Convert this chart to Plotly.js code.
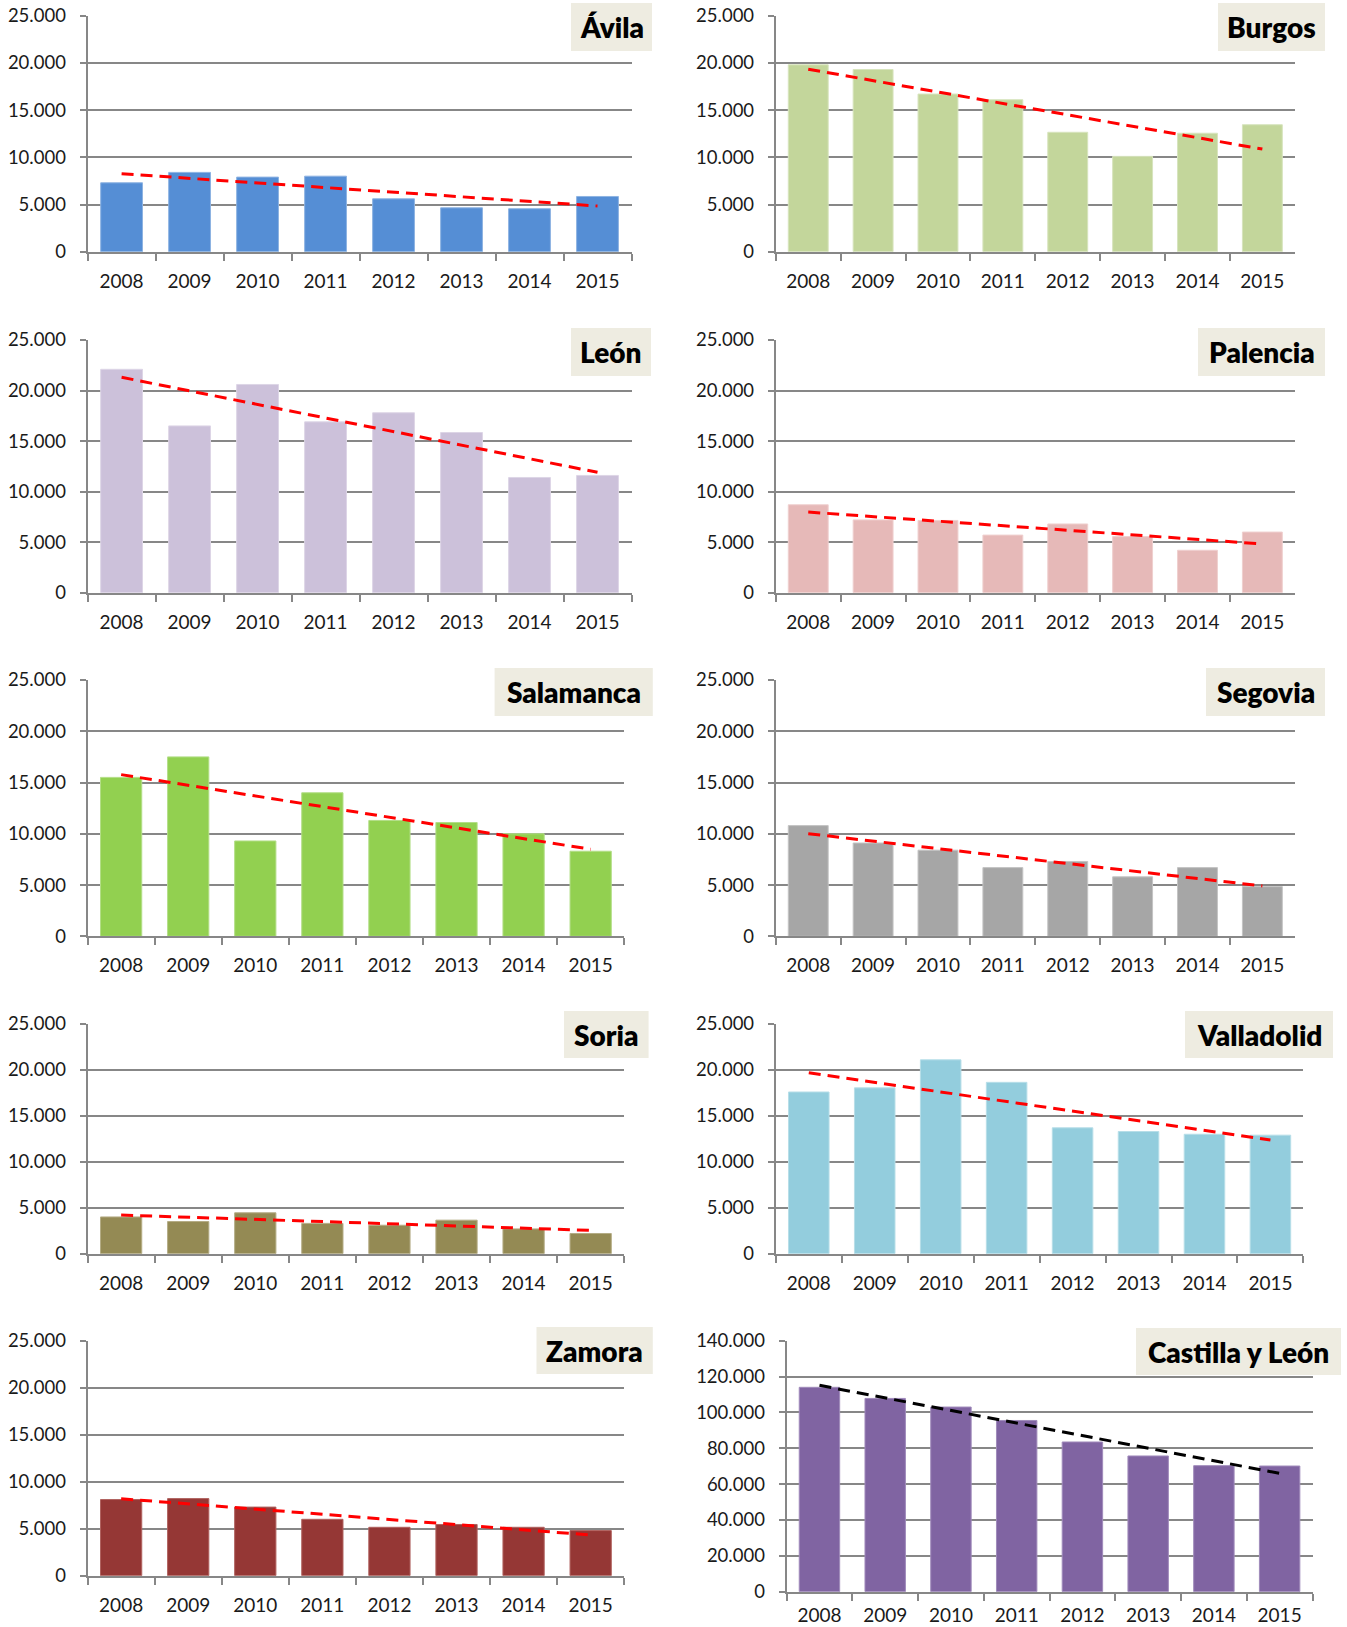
<!DOCTYPE html>
<html>
<head>
<meta charset="utf-8">
<script src="https://cdn.plot.ly/plotly-3.0.1.min.js"></script>
<style>
html,body{margin:0;padding:0;background:#fff;}
#chart{width:1347px;height:1627px;}
</style>
</head>
<body>
<div id="chart"></div>
<script>
// ---- data ----
const years = ['2008','2009','2010','2011','2012','2013','2014','2015'];

const avila      = [7300, 8400, 7900, 8000, 5600, 4650, 4550, 5850];
const burgos     = [19800, 19300, 16700, 16100, 12650, 10100, 12550, 13450];
const leon       = [22100, 16500, 20600, 16900, 17800, 15850, 11400, 11600];
const palencia   = [8700, 7200, 7150, 5700, 6800, 5550, 4200, 6000];
const salamanca  = [15500, 17500, 9300, 14000, 11300, 11100, 10000, 8300];
const segovia    = [10800, 9100, 8400, 6700, 7300, 5800, 6700, 4850];
const soria      = [4000, 3500, 4450, 3300, 3100, 3650, 2700, 2200];
const valladolid = [17600, 18050, 21100, 18650, 13700, 13300, 13000, 12900];
const zamora     = [8100, 8200, 7300, 6000, 5150, 5450, 5150, 4800];
const castillaLeon = [114000, 107800, 103000, 95500, 83500, 75700, 70300, 70100];

// linear trend line values at 2008 and 2015
const trendAvila      = [8260, 4840];
const trendBurgos     = [19330, 10870];
const trendLeon       = [21310, 11910];
const trendPalencia   = [7980, 4820];
const trendSalamanca  = [15770, 8490];
const trendSegovia    = [10010, 4910];
const trendSoria      = [4210, 2540];
const trendValladolid = [19700, 12370];
const trendZamora     = [8190, 4330];
const trendCastillaLeon = [115100, 66000];

const panelNames = ['Ávila','Burgos','León','Palencia','Salamanca','Segovia','Soria','Valladolid','Zamora','Castilla y León'];

// ---- layout helpers ----
const W = 1347, H = 1627;
const FONT = 'Lato, "Open Sans", "DejaVu Sans", sans-serif';
const GRID = '#878787';

// pixel boxes: [x0, x1, yTop(max value), yBottom(0)], title box [x0,x1,y0,y1]
const panels = [
  {vals: avila,      trend: trendAvila,      color:'#558ED5', edge:'#8DB3E2', tcolor:'#FF0000', ymax:25000, dt:5000,
   box:[87.6, 631.5, 15.7, 251.7],  tb:[571, 652, 3, 51], xs:11},
  {vals: burgos,     trend: trendBurgos,     color:'#C3D69B', edge:'#D7E4BD', tcolor:'#FF0000', ymax:25000, dt:5000,
   box:[775.8, 1294.8, 15.7, 251.7], tb:[1218, 1325, 3, 51], xs:11},
  {vals: leon,       trend: trendLeon,       color:'#CCC1DA', edge:'#DDD5E6', tcolor:'#FF0000', ymax:25000, dt:5000,
   box:[87.6, 631.5, 340, 592.7],    tb:[571, 651, 328, 376], xs:11},
  {vals: palencia,   trend: trendPalencia,   color:'#E6B9B8', edge:'#EFD0CF', tcolor:'#FF0000', ymax:25000, dt:5000,
   box:[775.8, 1294.8, 340, 592.7],  tb:[1198, 1325, 328, 376], xs:11},
  {vals: salamanca,  trend: trendSalamanca,  color:'#92D050', edge:'#B3DE87', tcolor:'#FF0000', ymax:25000, dt:5000,
   box:[87.6, 624.2, 680, 936.3],    tb:[494.6, 652.8, 668, 716], xs:11},
  {vals: segovia,    trend: trendSegovia,    color:'#A6A6A6', edge:'#C4C4C4', tcolor:'#FF0000', ymax:25000, dt:5000,
   box:[775.8, 1294.8, 680, 936.3],  tb:[1206, 1325, 668, 716], xs:11},
  {vals: soria,      trend: trendSoria,      color:'#948A54', edge:'#B4AC85', tcolor:'#FF0000', ymax:25000, dt:5000,
   box:[87.6, 624.2, 1024, 1253.7],  tb:[564, 648.6, 1011, 1058], xs:11},
  {vals: valladolid, trend: trendValladolid, color:'#93CDDD', edge:'#B7DEE8', tcolor:'#FF0000', ymax:25000, dt:5000,
   box:[775.8, 1303.4, 1024, 1253.7], tb:[1185, 1333, 1011, 1058], xs:11},
  {vals: zamora,     trend: trendZamora,     color:'#953735', edge:'#B0625F', tcolor:'#FF0000', ymax:25000, dt:5000,
   box:[87.6, 624.2, 1340.7, 1575.7], tb:[536.5, 652.8, 1327, 1374], xs:11},
  {vals: castillaLeon, trend: trendCastillaLeon, color:'#8064A2', edge:'#A08BBB', tcolor:'#000000', ymax:140000, dt:20000,
   box:[786.6, 1312.5, 1340.7, 1591.7], tb:[1136, 1341, 1328, 1375], xs:5}
];

const data = [];
const layout = {
  width: W, height: H,
  margin: {l:0, r:0, t:0, b:0},
  paper_bgcolor: '#ffffff', plot_bgcolor: 'rgba(0,0,0,0)',
  showlegend: false,
  separators: ',.',
  bargap: 0.385,
  shapes: [], annotations: []
};

panels.forEach((p, i) => {
  const n = i + 1;
  const xa = 'x' + n, ya = 'y' + n;
  data.push({
    type: 'bar', x: years, y: p.vals, xaxis: xa, yaxis: ya,
    marker: {color: p.color, line: {width: 1, color: p.edge}}, hoverinfo: 'x+y'
  });
  data.push({
    type: 'scatter', mode: 'lines', x: [years[0], years[years.length-1]], y: p.trend,
    xaxis: xa, yaxis: ya,
    line: {color: p.tcolor, width: 3, dash: '12px,7px'}, hoverinfo: 'skip'
  });
  const [bx0, bx1, byT, byB] = p.box;
  layout['xaxis' + n] = {
    domain: [bx0 / W, bx1 / W], anchor: ya, type: 'category',
    range: [-0.5, years.length - 0.5], fixedrange: true,
    showgrid: false, zeroline: false,
    showline: true, linecolor: GRID, linewidth: 2,
    ticks: 'outside', tickson: 'boundaries', ticklen: 7, tickwidth: 2, tickcolor: GRID,
    ticklabelstandoff: p.xs,
    tickfont: {family: FONT, size: 19, color: '#1a1a1a'}
  };
  layout['yaxis' + n] = {
    domain: [1 - byB / H, 1 - byT / H], anchor: xa,
    range: [0, p.ymax], dtick: p.dt, tick0: 0, tickformat: ',d', fixedrange: true,
    showgrid: true, gridcolor: GRID, gridwidth: 2, zeroline: false,
    showline: true, linecolor: GRID, linewidth: 2,
    ticks: 'outside', ticklen: 6, tickwidth: 2, tickcolor: GRID,
    ticklabelstandoff: 10,
    tickfont: {family: FONT, size: 18.5, color: '#1a1a1a'}
  };
  const [tx0, tx1, ty0, ty1] = p.tb;
  layout.shapes.push({
    type: 'rect', xref: 'paper', yref: 'paper', layer: 'above',
    x0: tx0 / W, x1: tx1 / W, y0: 1 - ty1 / H, y1: 1 - ty0 / H,
    fillcolor: '#EEECE1', line: {width: 0}
  });
  layout.annotations.push({
    xref: 'paper', yref: 'paper', x: (tx0 + tx1) / 2 / W, y: 1 - (ty0 + ty1) / 2 / H,
    xanchor: 'center', yanchor: 'middle', showarrow: false,
    text: panelNames[i],
    font: {family: FONT, size: 28, color: '#000000', weight: 800}
  });
});

Plotly.newPlot('chart', data, layout, {displayModeBar: false, staticPlot: true});
</script>
</body>
</html>
